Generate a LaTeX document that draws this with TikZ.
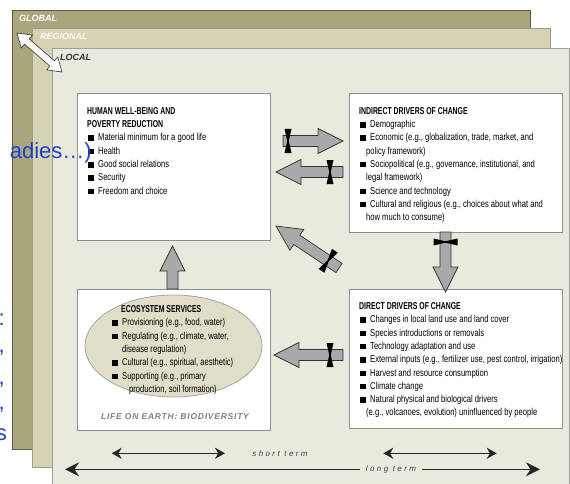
\documentclass[tikz,border=0pt]{standalone}
\usepackage{fontspec}
\setmainfont{Liberation Sans}
\newfontfamily\bodyfont[FakeStretch=0.76]{Liberation Sans}
\newfontfamily\headfont[FakeStretch=0.69]{Liberation Sans}
\newfontfamily\termfont[LetterSpace=30]{Liberation Sans}
\newfontfamily\lifefont[LetterSpace=9]{Liberation Sans}
\usetikzlibrary{arrows.meta,shapes.geometric,decorations.markings}

\definecolor{globalbg}{HTML}{A9A67C}
\definecolor{globaledge}{HTML}{5A5A4A}
\definecolor{regionbg}{HTML}{D5D3B4}
\definecolor{regionedge}{HTML}{9C9C8C}
\definecolor{localbg}{HTML}{EAE9DD}
\definecolor{localedge}{HTML}{A0A0A0}
\definecolor{boxedge}{HTML}{8F8F8F}
\definecolor{ellbg}{HTML}{E0DEC9}
\definecolor{arrowgray}{HTML}{A9A9A9}
\definecolor{arrowedge}{HTML}{333333}
\definecolor{overlayblue}{HTML}{2040C8}

\newcommand\sq{\rule{5.5pt}{5.5pt}\hspace{4.5pt}}
\newcommand\hd[1]{{\headfont\bfseries #1}}
\newcommand\arrowbody{%
  \draw[arrowline] (0pt,-5.5pt) -- (\pgfdecoratedpathlength-25pt,-5.5pt) -- (\pgfdecoratedpathlength-25pt,-12.5pt) -- (\pgfdecoratedpathlength,0pt) -- (\pgfdecoratedpathlength-25pt,12.5pt) -- (\pgfdecoratedpathlength-25pt,5.5pt) -- (0pt,5.5pt) -- cycle;}
\newcommand\hourglass[1]{%
  \fill[black] (#1pt-3.5pt,-12pt) -- (#1pt+3.5pt,-12pt) -- (#1pt+0.7pt,0pt) -- (#1pt+3.5pt,12pt) -- (#1pt-3.5pt,12pt) -- (#1pt-0.7pt,0pt) -- cycle;}
\newcommand\scalearrow{%
  \draw[fill=white, draw=black!80, line width=0.6pt] (0pt,0pt) -- (13pt,-8.5pt) -- (13pt,-3.5pt) -- (\pgfdecoratedpathlength-13pt,-3.5pt) -- (\pgfdecoratedpathlength-13pt,-8.5pt) -- (\pgfdecoratedpathlength,0pt) -- (\pgfdecoratedpathlength-13pt,8.5pt) -- (\pgfdecoratedpathlength-13pt,3.5pt) -- (13pt,3.5pt) -- (13pt,8.5pt) -- cycle;}

\tikzset{
  box/.style={draw=boxedge, fill=white, line width=0.9pt, inner sep=0pt},
  bodytext/.style={anchor=north west, inner sep=0pt, align=left, font=\bodyfont\fontsize{10}{13.3}\selectfont},
  scalelabel/.style={anchor=west, inner sep=0pt, font=\bfseries\itshape\fontsize{9}{10}\selectfont},
  arrowline/.style={draw=arrowedge, fill=arrowgray, line width=0.7pt, line join=miter},
  bigarrow/.style={decoration={markings, mark=at position 0pt with {\arrowbody\hourglass{#1}}}, postaction={decorate}},
  plainarrow/.style={decoration={markings, mark=at position 0pt with {\arrowbody}}, postaction={decorate}},
  levelarrow/.style={decoration={markings, mark=at position 0pt with {\scalearrow}}, postaction={decorate}},
  termarrow/.style={draw=black!85, line width=1.3pt, {Stealth[length=10pt,width=11pt]}-{Stealth[length=10pt,width=11pt]}},
  longarrow/.style={draw=black!85, line width=1.3pt, -{Stealth[length=14pt,width=14pt]}},
  termtext/.style={inner sep=0pt, text=black!75, font=\termfont\itshape\fontsize{8}{10}\selectfont},
  overlaytxt/.style={anchor=base east, inner sep=0pt, text=overlayblue, font=\fontsize{22}{26}\selectfont},
}

\begin{document}
\begin{tikzpicture}[x=1pt,y=-1pt]
\useasboundingbox (0,0) rectangle (570,484);
\clip (0,0) rectangle (570,484);

%Shape: global, regional and local panels
\draw[draw=globaledge, fill=globalbg, line width=0.8pt] (12,10) rectangle (530,449);
\draw[draw=regionedge, fill=regionbg, line width=0.8pt] (32,28) rectangle (550,467);
\draw[draw=localedge, fill=localbg, line width=0.8pt] (52,48) rectangle (569.5,490);

% Text Node
\node[scalelabel, text=white] (glob) at (19,18.5) {GLOBAL};
% Text Node
\node[scalelabel, text=white!95!regionbg] (regl) at (40,36.5) {REGIONAL};
% Text Node
\node[scalelabel, text=black!80] (locl) at (60,57.5) {LOCAL};

%Shape: double arrow between scales
\coordinate (lv1) at (17,33);
\coordinate (lv2) at (62,72);
\path[levelarrow] (lv1) -- (lv2);

%Shape: boxes
\node[box, minimum width=193pt, minimum height=147pt] (hwb) at (173.5,166.5) {};
\node[box, minimum width=213pt, minimum height=139pt] (ind) at (455.5,162.5) {};
\node[box, minimum width=213pt, minimum height=139pt] (dir) at (455.5,358.5) {};
\node[box, minimum width=193pt, minimum height=141pt] (eco) at (173.5,359.5) {};
\node[ellipse, draw=boxedge!80, fill=ellbg, line width=0.8pt, minimum width=177pt, minimum height=102pt, inner sep=0pt] (ell) at (173.5,346) {};

% Text Node
\node[bodytext] (hwbtxt) at (87,107.2) {\hd{HUMAN WELL-BEING AND}\\
\hd{POVERTY REDUCTION}\\
\hspace*{1pt}\sq Material minimum for a good life\\
\hspace*{1pt}\sq Health\\
\hspace*{1pt}\sq Good social relations\\
\hspace*{1pt}\sq Security\\
\hspace*{1pt}\sq Freedom and choice};
% Text Node
\node[bodytext] (indtxt) at (359,107.1) {\hd{INDIRECT DRIVERS OF CHANGE}\\
\hspace*{1pt}\sq Demographic\\
\hspace*{1pt}\sq Economic (e.g., globalization, trade, market, and\\
\hspace*{7pt}policy framework)\\
\hspace*{1pt}\sq Sociopolitical (e.g., governance, institutional, and\\
\hspace*{7pt}legal framework)\\
\hspace*{1pt}\sq Science and technology\\
\hspace*{1pt}\sq Cultural and religious (e.g., choices about what and\\
\hspace*{7pt}how much to consume)};
% Text Node
\node[bodytext] (dirtxt) at (359,302.4) {\hd{DIRECT DRIVERS OF CHANGE}\\
\hspace*{1pt}\sq Changes in local land use and land cover\\
\hspace*{1pt}\sq Species introductions or removals\\
\hspace*{1pt}\sq Technology adaptation and use\\
\hspace*{1pt}\sq External inputs (e.g., fertilizer use, pest control, irrigation)\\
\hspace*{1pt}\sq Harvest and resource consumption\\
\hspace*{1pt}\sq Climate change\\
\hspace*{1pt}\sq Natural physical and biological drivers\\
\hspace*{7pt}(e.g., volcanoes, evolution) uninfluenced by people};
% Text Node
\node[bodytext] (ecotxt) at (112,305.4) {\hspace*{9pt}\hd{ECOSYSTEM SERVICES}\\
\sq Provisioning (e.g., food, water)\\
\sq Regulating (e.g., climate, water,\\
\hspace*{10pt}disease regulation)\\
\sq Cultural (e.g., spiritual, aesthetic)\\
\sq Supporting (e.g., primary\\
\hspace*{17pt}production, soil formation)};
% Text Node
\node[inner sep=0pt, text=black!50, font=\lifefont\bfseries\itshape\fontsize{8.5}{10}\selectfont] (life) at (175,417) {LIFE ON EARTH: BIODIVERSITY};

%Shape: block arrows between the boxes
\coordinate (a1s) at (283,141);
\coordinate (a1e) at (343,141);
\coordinate (a2s) at (343,172);
\coordinate (a2e) at (276,172);
\coordinate (a3s) at (339,268);
\coordinate (a3e) at (276,226);
\coordinate (a4s) at (445.5,232);
\coordinate (a4e) at (445.5,292);
\coordinate (a5s) at (343,355);
\coordinate (a5e) at (274,355);
\coordinate (a6s) at (172.5,289);
\coordinate (a6e) at (172.5,246);
\path[bigarrow=5] (a1s) -- (a1e);
\path[bigarrow=13] (a2s) -- (a2e);
\path[bigarrow=13] (a3s) -- (a3e);
\path[bigarrow=10] (a4s) -- (a4e);
\path[bigarrow=13] (a5s) -- (a5e);
\path[plainarrow] (a6s) -- (a6e);

%Straight Lines: time scales
\coordinate (st1a) at (111.7,453.3);
\coordinate (st1b) at (225,453.3);
\coordinate (st2a) at (383.3,453.3);
\coordinate (st2b) at (496.7,453.3);
\coordinate (lt1) at (65,469.3);
\coordinate (lt2) at (540,469.3);
\draw[termarrow] (st1a) -- (st1b);
\draw[termarrow] (st2a) -- (st2b);
% Text Node
\node[termtext] (short) at (280,453.3) {short term};
% Text Node
\node[termtext, fill=localbg, inner xsep=6pt] (long) at (391,469.3) {long term};
\draw[longarrow] (long.west) -- (lt1);
\draw[longarrow] (long.east) -- (lt2);

% Text Node: blue fragments
\node[overlaytxt] (frag) at (92,158.5) {adies…)};
\node[overlaytxt] (fr1) at (5,325) {:};
\node[overlaytxt] (fr2) at (5,352) {,};
\node[overlaytxt] (fr3) at (5,384) {,};
\node[overlaytxt] (fr4) at (5,409) {,};
\node[overlaytxt] (fr5) at (7,440) {s};

\end{tikzpicture}
\end{document}
